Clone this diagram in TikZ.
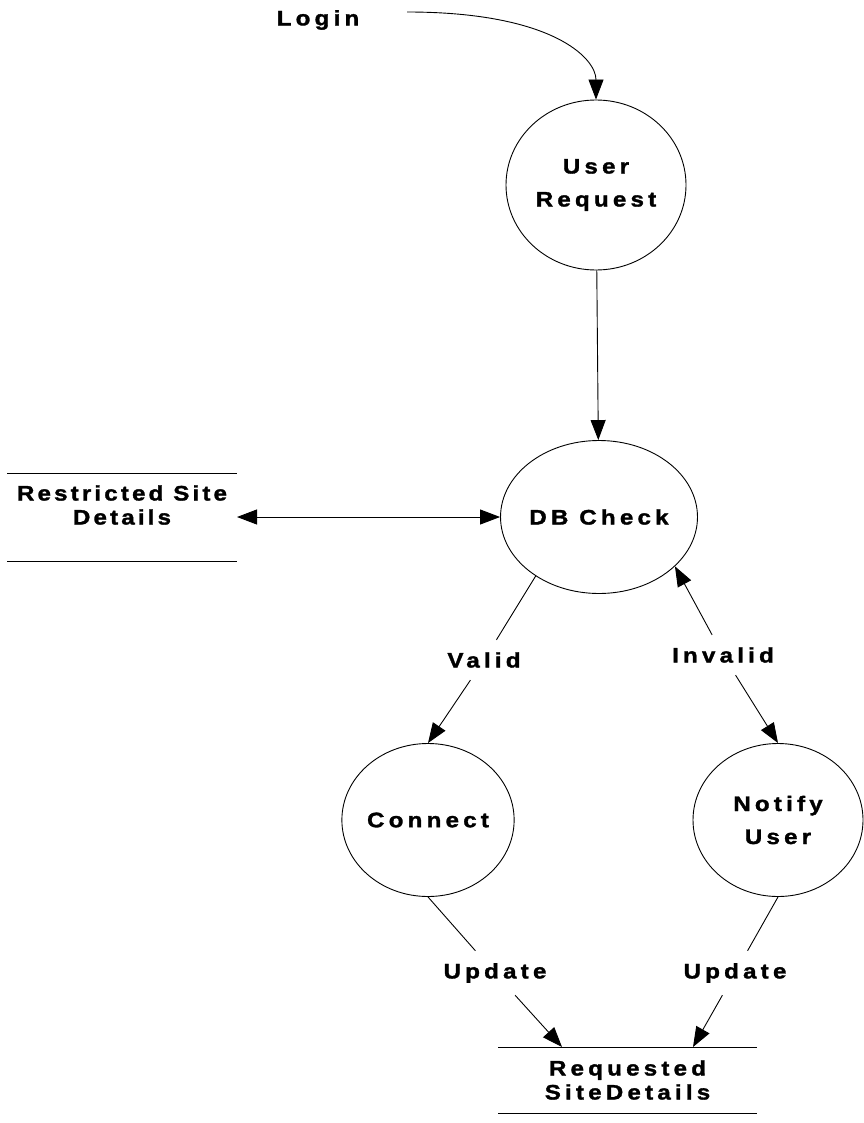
\documentclass[tikz,border=0pt]{standalone}
\usepackage{fontspec}
\newfontfamily\dfdfont{Liberation Sans Bold}[LetterSpace=20, FakeStretch=1.15, FakeBold=1.5]
\newfontfamily\dfdnarrow{Liberation Sans Bold}[LetterSpace=15, FakeStretch=1.15, FakeBold=1.5]
\usetikzlibrary{arrows.meta, shapes.geometric}
\tikzset{
  process/.style={
    ellipse, draw=black, inner sep=0pt,
    minimum width=171pt, minimum height=153pt,
    align=center, font=\dfdfont\fontsize{21}{33}\selectfont
  },
  store/.style={
    rectangle, inner sep=0pt, outer sep=0pt,
    align=center, font=\dfdfont\fontsize{21}{24}\selectfont
  },
  flowlabel/.style={
    inner xsep=4pt, inner ysep=12pt,
    font=\dfdfont\fontsize{21}{24}\selectfont
  },
  arrow/.style={
    ->, >={Triangle[length=20pt, width=15pt]}
  }
}

\begin{document}
\begin{tikzpicture}[x=1pt, y=-1pt, line width=0.9pt]
\useasboundingbox (0,0) rectangle (863,1123);
% processes
\node[process, minimum width=180pt, minimum height=170pt] (user) at (596,185) {User\\Request};
\node[process] (check) at (599,517) {DB Check};
\node[process] (connect) at (428,820) {Connect};
\node[process, minimum width=170pt] (notify) at (778,820) {Notify\\User};
% data stores
\node[store, minimum width=230pt, minimum height=88pt,
  label={[store, yshift=12pt, font=\dfdnarrow\fontsize{21}{24}\selectfont]center:Restricted Site\\Details}] (restricted) at (122,517) {};
\node[store, minimum width=259pt, minimum height=66pt] (requested) at (627.5,1080) {Requested\\SiteDetails};
\foreach \s in {restricted, requested} {
  \draw (\s.north west) -- (\s.north east);
  \draw (\s.south west) -- (\s.south east);
}
% flow labels
\node[flowlabel] (login) at (318,20) {Login};
\node[flowlabel] (valid) at (484,660) {Valid};
\node[flowlabel] (invalid) at (723,655) {Invalid};
\node[flowlabel] (update1) at (495,973) {Update};
\node[flowlabel] (update2) at (735,973) {Update};
\coordinate (loginout) at (407,12);
\coordinate (in1) at (562,1047);
\coordinate (in2) at (693,1047);
% flows
\draw[arrow] (loginout) .. controls (552,12) and (596,58) .. (user.north);
\draw[arrow] (user) -- (check);
\draw[arrow, <->] (restricted.east) -- (check.west);
\draw (check.223) -- (valid);
\draw[arrow] (valid) -- (connect.north);
\draw[arrow] (invalid) -- (check.327);
\draw[arrow] (invalid) -- (notify.north);
\draw (connect.south) -- (update1);
\draw[arrow] (update1) -- (in1);
\draw (notify.south) -- (update2);
\draw[arrow] (update2) -- (in2);
\end{tikzpicture}
\end{document}
